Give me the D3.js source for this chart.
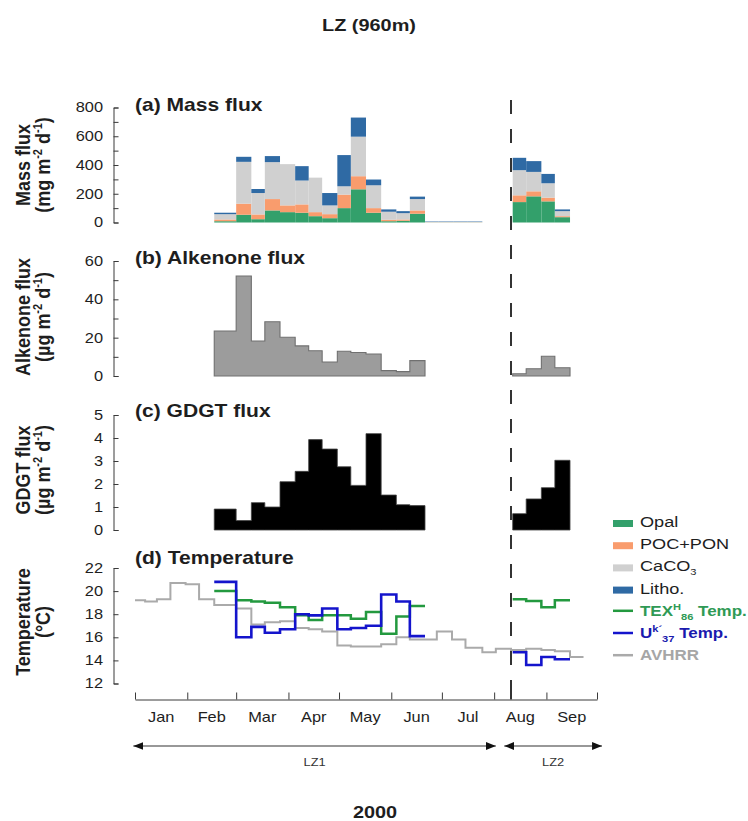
<!DOCTYPE html>
<html>
<head>
<meta charset="utf-8">
<script src="https://cdn.jsdelivr.net/npm/d3@7"></script>
<style>
  body { margin: 0; background: #fff; }
  svg { display: block; }
</style>
</head>
<body>
<svg id="chart" width="748" height="821"></svg>
<script>
// ---- Trap cup schedule (opening dates); each cup closes when the next opens ----
const cupStartsLZ1 = ["2000-02-17","2000-03-01","2000-03-10","2000-03-18","2000-03-27","2000-04-05","2000-04-13",
                      "2000-04-21","2000-04-30","2000-05-08","2000-05-17","2000-05-26","2000-06-04","2000-06-12"];
const cupEndLZ1 = "2000-06-21";
const emptyCupStarts = ["2000-06-21","2000-06-29","2000-07-08","2000-07-16"];
const emptyCupEnd = "2000-07-25";
const cupStartsLZ2 = ["2000-08-12","2000-08-20","2000-08-29","2000-09-06"];
const cupEndLZ2 = "2000-09-15";
const deploymentSwitch = "2000-08-11";

// ---- (a) Mass flux components, mg m-2 d-1 (LZ1 cups, empty LZ1 cups, LZ2 cups) ----
const opalLZ1  = [9, 54, 23, 84, 72, 68, 44, 30, 100, 231, 68, 9, 12, 61];
const pocLZ1   = [12, 77, 33, 79, 47, 58, 28, 28, 94, 91, 32, 10, 9, 23];
const caco3LZ1 = [37, 291, 149, 257, 287, 166, 240, 61, 58, 275, 159, 56, 44, 79];
const lithoLZ1 = [10, 35, 28, 42, 0, 100, 0, 86, 217, 133, 40, 16, 14, 17];
const opalEmpty  = [1, 1, 1, 1];
const pocEmpty   = [1, 1, 1, 1];
const caco3Empty = [2, 2, 2, 2];
const lithoEmpty = [3, 3, 3, 3];
const opalLZ2  = [142, 182, 147, 37];
const pocLZ2   = [47, 35, 26, 7];
const caco3LZ2 = [175, 135, 100, 35];
const lithoLZ2 = [86, 75, 65, 12];

// ---- (b) Alkenone flux, ug m-2 d-1 ----
const alkenoneLZ1 = [23.5, 52.2, 18.3, 28.3, 20.2, 15.7, 13.2, 7.3, 12.9, 12.3, 11.5, 2.8, 2.3, 8.0];
const alkenoneLZ2 = [1.2, 3.8, 10.3, 4.3];

// ---- (c) GDGT flux, ug m-2 d-1 ----
const gdgtLZ1 = [0.91, 0.41, 1.19, 1.0, 2.1, 2.55, 3.93, 3.52, 2.75, 1.94, 4.19, 1.52, 1.10, 1.06];
const gdgtLZ2 = [0.71, 1.35, 1.84, 3.03];

// ---- (d) Temperatures, deg C ----
const texLZ1 = [20.0, 19.2, 19.1, 19.0, 18.6, 17.9, 17.5, 17.9, 17.9, 17.6, 18.2, 16.3, 17.8, 18.7];
const texLZ2 = [19.3, 19.15, 18.6, 19.2];
const uk37LZ1 = [20.8, 16.0, 16.9, 16.4, 16.7, 18.0, 17.9, 18.5, 16.7, 16.8, 17.0, 19.7, 19.1, 16.1];
const uk37LZ2 = [14.7, 13.6, 14.3, 14.1];
const avhrrStarts = ["2000-01-01","2000-01-07","2000-01-14","2000-01-22","2000-01-31","2000-02-08","2000-02-17",
                     "2000-03-01","2000-03-10","2000-03-18","2000-03-27","2000-04-05","2000-04-13","2000-04-21",
                     "2000-04-30","2000-05-08","2000-05-17","2000-05-26","2000-06-04","2000-06-12","2000-06-21",
                     "2000-06-28","2000-07-07","2000-07-15","2000-07-25","2000-08-02","2000-08-11","2000-08-20",
                     "2000-08-29","2000-09-06","2000-09-15"];
const avhrrEnd = "2000-09-23";
const avhrr = [19.2, 19.1, 19.3, 20.7, 20.6, 19.3, 18.8, 18.5, 17.1, 17.3, 17.4, 16.8, 16.7, 16.5,
               15.3, 15.2, 15.2, 15.4, 16.0, 15.8, 15.8, 16.5, 15.8, 15.1, 14.7, 15.0, 14.9, 15.0,
               14.9, 14.8, 14.3];

// ---- Axis ticks and labels ----
const massTicks = [0, 200, 400, 600, 800], massMinor = [100, 300, 500, 700];
const alkTicks = [0, 20, 40, 60], alkMinor = [10, 30, 50];
const gdgtTicks = [0, 1, 2, 3, 4, 5];
const tempTicks = [12, 14, 16, 18, 20, 22];
const monthStarts = ["2000-01-01","2000-02-01","2000-03-01","2000-04-01","2000-05-01","2000-06-01",
                     "2000-07-01","2000-08-01","2000-09-01","2000-10-01"];
const monthNames = ["Jan","Feb","Mar","Apr","May","Jun","Jul","Aug","Sep"];
const deployments = [
  { name: "LZ1", from: "1999-12-31", to: "2000-08-02" },
  { name: "LZ2", from: "2000-08-07", to: "2000-10-04" }
];

// ---- Styling ----
const FONT = "'Liberation Sans', Arial, Helvetica, sans-serif";
const SX = 1.17;   // horizontal glyph stretch used by every label
const C = {
  opal: "#33a06b", poc: "#f99c6d", caco3: "#d0d0d0", litho: "#2f6aa4",
  tex: "#23993f", uk: "#1414cc", avhrr: "#aaaaaa",
  alk: "#9c9c9c", alkLine: "#707070", gdgt: "#000000", axis: "#3a3a3a", text: "#1e1e1e"
};

const parse = d3.utcParse("%Y-%m-%d");
const svg = d3.select("#chart");
const x = d3.scaleUtc().domain([parse("2000-01-01"), parse("2000-10-01")]).range([135, 597]);

function cups(starts, end) {
  const s = starts.map(parse);
  return s.map((d, i) => ({ start: d, end: i < s.length - 1 ? s[i + 1] : parse(end) }));
}
const cLZ1 = cups(cupStartsLZ1, cupEndLZ1);
const cEmpty = cups(emptyCupStarts, emptyCupEnd);
const cLZ2 = cups(cupStartsLZ2, cupEndLZ2);

// text helper: stretched glyphs anchored at (px, py)
function label(g, px, py, str, o = {}) {
  const t = g.append("text")
    .attr("transform", `translate(${px},${py}) scale(${SX},1)`)
    .attr("font-family", FONT)
    .attr("font-size", o.size || 14)
    .attr("font-weight", o.weight || "normal")
    .attr("text-anchor", o.anchor || "start")
    .attr("fill", o.fill || C.text);
  if (str !== null) t.text(str);
  return t;
}

// ---- Panel scales ----
const yMass = d3.scaleLinear().domain([0, 800]).range([222.5, 107.5]);
const yAlk  = d3.scaleLinear().domain([0, 60]).range([376, 261]);
const yGdgt = d3.scaleLinear().domain([0, 5]).range([530, 415]);
const yTemp = d3.scaleLinear().domain([12, 22]).range([683.5, 568]);
const AX = 113.5;

function yAxis(scale, ticks, minor) {
  const g = svg.append("g").attr("transform", `translate(${AX},0)`);
  g.call(d3.axisLeft(scale).tickValues(ticks).tickFormat(d3.format("d"))
    .tickSizeInner(-5).tickSizeOuter(-5).tickPadding(10.5));
  g.selectAll("path, line").attr("stroke", C.axis).attr("stroke-width", 1);
  g.selectAll("text")
    .attr("x", null)
    .attr("transform", `translate(-10.5,0) scale(${SX},1)`)
    .attr("font-family", FONT).attr("font-size", 14).attr("fill", C.text);
  if (minor) {
    const m = svg.append("g").attr("transform", `translate(${AX},0)`);
    m.call(d3.axisLeft(scale).tickValues(minor).tickSize(-5).tickFormat(""));
    m.select(".domain").remove();
    m.selectAll("line").attr("stroke", C.axis).attr("stroke-width", 1);
  }
}

function yTitle(cy, line1, unitParts) {
  const mk = (px, parts) => {
    const t = svg.append("text")
      .attr("transform", `translate(${px},${cy}) scale(${SX},1) rotate(-90)`)
      .attr("font-family", FONT).attr("font-size", 18).attr("font-weight", "bold")
      .attr("text-anchor", "middle").attr("fill", C.text);
    parts.forEach(p => {
      const ts = t.append("tspan").text(p.t);
      if (p.sup) ts.attr("baseline-shift", "super").attr("font-size", 11);
    });
  };
  mk(30, [{ t: line1 }]);
  mk(50, unitParts);
}
const unitMg = [{ t: "(mg m" }, { t: "-2", sup: true }, { t: " d" }, { t: "-1", sup: true }, { t: ")" }];
const unitUg = [{ t: "(\u00b5g m" }, { t: "-2", sup: true }, { t: " d" }, { t: "-1", sup: true }, { t: ")" }];

// ---- Title ----
label(svg, 369, 31, "LZ (960m)", { size: 17, weight: "bold", anchor: "middle" });

// ---- (a) stacked mass flux ----
const massRows = [];
[[cLZ1, opalLZ1, pocLZ1, caco3LZ1, lithoLZ1],
 [cEmpty, opalEmpty, pocEmpty, caco3Empty, lithoEmpty],
 [cLZ2, opalLZ2, pocLZ2, caco3LZ2, lithoLZ2]].forEach(([cs, o, p, c, l]) => {
  cs.forEach((cup, i) => massRows.push({ start: cup.start, end: cup.end, opal: o[i], poc: p[i], caco3: c[i], litho: l[i] }));
});
const stack = d3.stack().keys(["opal", "poc", "caco3", "litho"])(massRows);
svg.append("g").selectAll("g").data(stack).join("g")
  .attr("fill", s => C[s.key])
  .selectAll("rect").data(s => s).join("rect")
  .attr("x", d => x(d.data.start))
  .attr("width", d => x(d.data.end) - x(d.data.start))
  .attr("y", d => yMass(d[1]))
  .attr("height", d => yMass(d[0]) - yMass(d[1]));
yAxis(yMass, massTicks, massMinor);
yTitle(165, "Mass flux", unitMg);
label(svg, 135, 110.5, "(a) Mass flux", { size: 18, weight: "bold" });

// ---- step-area helper for (b) and (c) ----
function stepPoints(cs, vals) {
  const pts = cs.map((c, i) => [c.start, vals[i]]);
  pts.push([cs[cs.length - 1].end, vals[vals.length - 1]]);
  return pts;
}
function stepArea(scale, cs, vals, fill, stroke, sw) {
  const area = d3.area().curve(d3.curveStepAfter).x(d => x(d[0])).y0(scale(0)).y1(d => scale(d[1]));
  svg.append("path").datum(stepPoints(cs, vals)).attr("d", area)
    .attr("fill", fill).attr("stroke", stroke).attr("stroke-width", sw).attr("stroke-linejoin", "miter");
}

// ---- (b) alkenone flux ----
stepArea(yAlk, cLZ1, alkenoneLZ1, C.alk, C.alkLine, 1.1);
stepArea(yAlk, cLZ2, alkenoneLZ2, C.alk, C.alkLine, 1.1);
yAxis(yAlk, alkTicks, alkMinor);
yTitle(317, "Alkenone flux", unitUg);
label(svg, 135, 263.5, "(b) Alkenone flux", { size: 18, weight: "bold" });

// ---- (c) GDGT flux ----
stepArea(yGdgt, cLZ1, gdgtLZ1, C.gdgt, "#444", 0.8);
stepArea(yGdgt, cLZ2, gdgtLZ2, C.gdgt, "#444", 0.8);
yAxis(yGdgt, gdgtTicks, null);
yTitle(470, "GDGT flux", unitUg);
label(svg, 135, 417, "(c) GDGT flux", { size: 18, weight: "bold" });

// ---- (d) temperatures ----
const stepLine = d3.line().curve(d3.curveStepAfter).x(d => x(d[0])).y(d => yTemp(d[1]));
function tempPath(pts, color, w) {
  svg.append("path").datum(pts).attr("d", stepLine)
    .attr("fill", "none").attr("stroke", color).attr("stroke-width", w).attr("stroke-linejoin", "miter");
}
tempPath(stepPoints(cups(avhrrStarts, avhrrEnd), avhrr), C.avhrr, 2);
tempPath(stepPoints(cLZ1, texLZ1), C.tex, 2.5);
tempPath(stepPoints(cLZ2, texLZ2), C.tex, 2.5);
tempPath(stepPoints(cLZ1, uk37LZ1), C.uk, 2.6);
tempPath(stepPoints(cLZ2, uk37LZ2), C.uk, 2.6);
yAxis(yTemp, tempTicks, null);
yTitle(622, "Temperature", [{ t: "(\u00b0C)" }]);
label(svg, 135, 564, "(d) Temperature", { size: 18, weight: "bold" });

// ---- deployment change marker ----
const xs = x(parse(deploymentSwitch));
svg.append("line").attr("x1", xs).attr("x2", xs).attr("y1", 100).attr("y2", 686)
  .attr("stroke", "#333").attr("stroke-width", 2).attr("stroke-dasharray", "14,15");
svg.append("line").attr("x1", xs).attr("x2", xs).attr("y1", 686).attr("y2", 699.5)
  .attr("stroke", "#333").attr("stroke-width", 2);

// ---- time axis ----
const xg = svg.append("g").attr("transform", "translate(0,699.5)");
xg.call(d3.axisBottom(x).tickValues(monthStarts.map(parse)).tickSizeInner(-7).tickSizeOuter(0).tickFormat(""));
xg.selectAll("path, line").attr("stroke", C.axis).attr("stroke-width", 1);
monthNames.forEach((m, i) => {
  const mid = new Date((parse(monthStarts[i]).getTime() + parse(monthStarts[i + 1]).getTime()) / 2);
  label(svg, x(mid), 722, m, { size: 14, anchor: "middle" });
});

// ---- deployment arrows ----
const defs = svg.append("defs");
["start", "end"].forEach(k => {
  defs.append("marker").attr("id", "arr-" + k)
    .attr("viewBox", "0 0 10 8").attr("refX", k === "end" ? 10 : 0).attr("refY", 4)
    .attr("markerWidth", 10).attr("markerHeight", 8).attr("markerUnits", "userSpaceOnUse")
    .attr("orient", "auto")
    .append("path").attr("d", k === "end" ? "M0,0L10,4L0,8Z" : "M10,0L0,4L10,8Z").attr("fill", "#111");
});
deployments.forEach(dp => {
  const a = x(parse(dp.from)), b = x(parse(dp.to));
  svg.append("line").attr("x1", a).attr("x2", b).attr("y1", 746).attr("y2", 746)
    .attr("stroke", "#333").attr("stroke-width", 1.2)
    .attr("marker-start", "url(#arr-start)").attr("marker-end", "url(#arr-end)");
  label(svg, (a + b) / 2, 766, dp.name, { size: 11, anchor: "middle", fill: "#333" });
});

label(svg, 375, 818, "2000", { size: 17, weight: "bold", anchor: "middle" });

// ---- legend ----
const legend = [
  { kind: "rect", color: C.opal, parts: [{ t: "Opal" }] },
  { kind: "rect", color: C.poc, parts: [{ t: "POC+PON" }] },
  { kind: "rect", color: C.caco3, parts: [{ t: "CaCO" }, { t: "3", sub: true }] },
  { kind: "rect", color: C.litho, parts: [{ t: "Litho." }] },
  { kind: "line", color: C.tex, bold: true, fill: "#2f9a55",
    parts: [{ t: "TEX" }, { t: "H", sup: true }, { t: "86", sub: true }, { t: " Temp." }] },
  { kind: "line", color: C.uk, bold: true, fill: "#1a1aae",
    parts: [{ t: "U" }, { t: "k\u00b4", sup: true }, { t: "37", sub: true }, { t: " Temp." }] },
  { kind: "line", color: C.avhrr, bold: true, fill: "#a6a6a6", parts: [{ t: "AVHRR" }] }
];
legend.forEach((it, i) => {
  const by = 527 + i * 22.2;
  if (it.kind === "rect") {
    svg.append("rect").attr("x", 613).attr("y", by - 7).attr("width", 20).attr("height", 7).attr("fill", it.color);
  } else {
    svg.append("line").attr("x1", 613).attr("x2", 633).attr("y1", by - 5).attr("y2", by - 5)
      .attr("stroke", it.color).attr("stroke-width", 2.5);
  }
  const t = label(svg, 640, by, null, { size: it.bold ? 14.5 : 15.5, weight: it.bold ? "bold" : "normal", fill: it.fill || C.text });
  const hasSup = it.parts.some(q => q.sup);
  it.parts.forEach((p, j) => {
    const ts = t.append("tspan").text(p.t);
    if (p.sup) ts.attr("dy", -6).attr("font-size", 9.5);
    else if (p.sub) ts.attr("dy", hasSup ? 10 : 4).attr("font-size", 9.5);
    else if (j > 0 && it.parts[j - 1].sub) ts.attr("dy", -4);
  });
});
</script>
</body>
</html>
